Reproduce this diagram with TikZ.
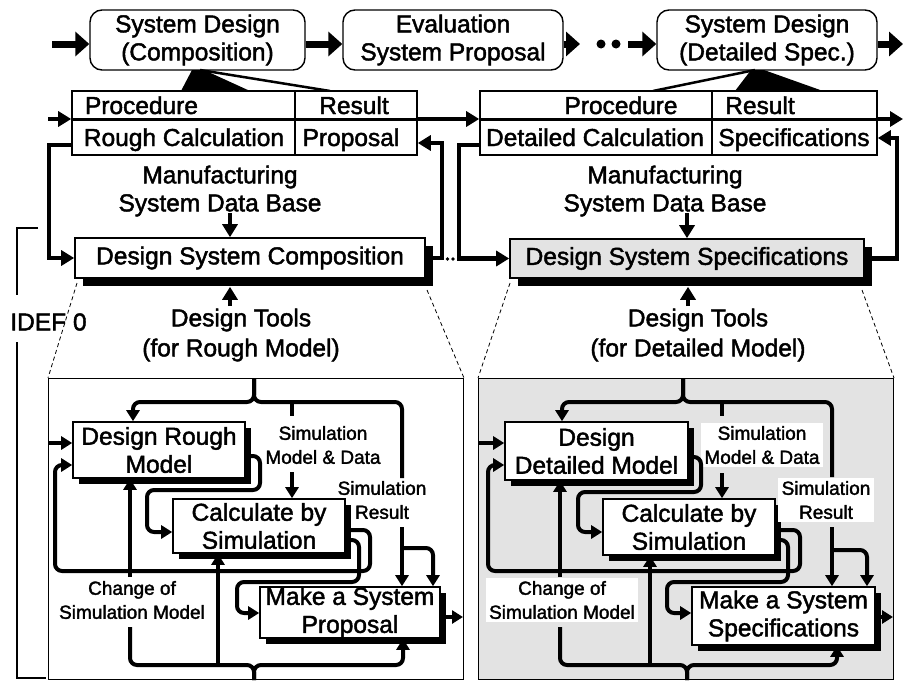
\documentclass[tikz,border=0pt]{standalone}
\usepackage{fontspec}
\setmainfont{Liberation Sans}[FakeBold=1.8]
\usetikzlibrary{arrows.meta,shadows}
\begin{document}
\begin{tikzpicture}[x=1pt,y=-1pt,line join=miter,
  big/.style={font=\fontsize{24.5}{28}\selectfont},
  small/.style={font=\fontsize{19}{24}\selectfont},
  stage/.style={draw,line width=1.4pt,rounded corners=12pt,minimum width=215pt,minimum height=60pt,align=center,big,inner sep=0pt,fill=white},
  sysbox/.style={draw,line width=1.6pt,fill=white,align=center,big,inner sep=0pt,
    drop shadow={shadow xshift=8pt,shadow yshift=-8pt,fill=black,opacity=1}},
  pbox/.style={draw,line width=1.6pt,fill=white,align=center,big,inner sep=0pt,
    drop shadow={shadow xshift=6pt,shadow yshift=-6pt,fill=black,opacity=1}},
  bigarrow/.style={line width=7pt,-{Triangle[length=14pt,width=24pt]}},
  midflow/.style={line width=4.5pt,-{Triangle[length=13pt,width=15pt]}},
  pflow/.style={line width=4pt,rounded corners=7pt,-{Triangle[length=11pt,width=13pt]}},
  pline/.style={line width=4pt,rounded corners=7pt},
  zoomline/.style={line width=0.8pt,dash pattern=on 4pt off 3pt},
  panel/.style={draw,line width=1pt,anchor=north west,inner sep=0pt,minimum width=415pt,minimum height=301pt},
  cellline/.style={line width=1.6pt}
]
\useasboundingbox (0,0) rectangle (904,680);
\fill[white] (0,0) rectangle (904,680);

% ---------- process stages ----------
\node[stage] (st1) at (197.5,40) {System Design\\(Composition)};
\node[stage,minimum width=220pt] (st2) at (453,40) {Evaluation\\System Proposal};
\node[stage,minimum width=220pt] (st3) at (767,40) {System Design\\(Detailed Spec.)};

\coordinate (s0) at (52,44);
\coordinate (s1) at (580,44);
\coordinate (s2) at (628,44);
\coordinate (s3) at (903,44);
\draw[bigarrow] (s0) -- (st1.west |- s0);
\draw[bigarrow] (st1.east |- s0) -- (st2.west |- s0);
\draw[bigarrow] (st2.east |- s0) -- (s1);
\fill (601,44) circle (4.5pt) (616,44) circle (4.5pt);
\draw[bigarrow] (s2) -- (st3.west |- s2);
\draw[bigarrow] (st3.east |- s3) -- (s3);

% callout wedges
\fill (181,91) -- (192,70) -- (204,70) -- (250,91) -- cycle;
\draw[line width=2.5pt] (200,70) -- (330,91);
\fill (735,91) -- (751,70) -- (764,70) -- (823,91) -- cycle;
\draw[line width=2.5pt] (755,70) -- (653,91);

% ---------- tables ----------
\node[draw,cellline,fill=white,minimum width=345pt,minimum height=64pt,inner sep=0pt] (tab1) at (244.5,123) {};
\draw[cellline] (295,91) -- (295,155);
\draw[line width=3pt] (72,119) -- (417,119);
\node[big,anchor=base] (t1a) at (141.5,114) {Procedure};
\node[big,anchor=base] (t1b) at (354,114) {Result};
\node[big,anchor=base] (t1c) at (184,146) {Rough Calculation};
\node[big,anchor=base] (t1d) at (351,146) {Proposal};

\node[draw,cellline,fill=white,minimum width=397pt,minimum height=64pt,inner sep=0pt] (tab2) at (678.5,123) {};
\draw[cellline] (712,91) -- (712,155);
\draw[line width=3pt] (480,119) -- (877,119);
\node[big,anchor=base] (t2a) at (621,114) {Procedure};
\node[big,anchor=base] (t2b) at (760,114) {Result};
\node[big,anchor=base] (t2c) at (595,146) {Detailed Calculation};
\node[big,anchor=base] (t2d) at (794,146) {Specifications};

\coordinate (in1) at (48,119);
\coordinate (out2) at (903,119);
\draw[midflow] (in1) -- (tab1.west |- in1);
\draw[midflow] (tab1.east |- in1) -- (tab2.west |- in1);
\draw[midflow] (tab2.east |- out2) -- (out2);

% ---------- IDEF0 activities ----------
\node[sysbox,minimum width=350pt,minimum height=40pt] (dsc) at (250,258) {Design System Composition};
\node[sysbox,fill=gray!22,minimum width=354pt,minimum height=39pt] (dss) at (687,258.5) {Design System Specifications};

\draw[midflow] ([yshift=-22pt]tab1.west) -- (49,145) |- (dsc.west);
\draw[midflow] (dsc.east) -- (442,258) |- ([yshift=-20pt]tab1.east);
\fill (447.5,259) circle (1.8pt) (453,259) circle (1.8pt);
\draw[midflow] ([yshift=-22pt]tab2.west) -- (459,145) |- (dss.west);
\draw[midflow] (dss.east) -- (897,258.5) |- ([yshift=-15pt]tab2.east);

\node[big,align=center] (mdb1) at (220,191) {Manufacturing\\System Data Base};
\node[big,align=center] (mdb2) at (665,191) {Manufacturing\\System Data Base};
\coordinate (m1) at (230,213);
\coordinate (m2) at (687,213);
\draw[midflow] (m1) -- (m1 |- dsc.north);
\draw[midflow] (m2) -- (m2 |- dss.north);

\node[big,align=center,font=\fontsize{24.5}{30}\selectfont] (dt1) at (241,335) {Design Tools\\(for Rough Model)};
\node[big,align=center,font=\fontsize{24.5}{30}\selectfont] (dt2) at (698,335) {Design Tools\\(for Detailed Model)};
\coordinate (u1) at (230,306);
\coordinate (u2) at (688,306);
\draw[midflow] (u1) -- ([yshift=-8pt]u1 |- dsc.south);
\draw[midflow] (u2) -- ([yshift=-8pt]u2 |- dss.south);

% IDEF 0 bracket
\node[big] (idef) at (48.5,322) {IDEF 0};
\draw[line width=1.5pt] (38,228) -- (17,228) -- (17,295);
\draw[line width=1.5pt] (17,342) -- (17,678) -- (46,678);

% ---------- detail panels ----------
\node[panel,fill=white] (pn1) at (48,378) {};
\node[panel,fill=gray!22] (pn2) at (478,378) {};
\draw[zoomline] (77,283) -- (pn1.north west);
\draw[zoomline] (427,290) -- (pn1.north east);
\draw[zoomline] (510,283) -- (pn2.north west);
\draw[zoomline] (862,290) -- (pn2.north east);

% panel 1 : rough model
\node[pbox,minimum width=172pt,minimum height=56pt] (drm) at (159,450) {Design Rough\\Model};
\node[pbox,minimum width=172pt,minimum height=54pt] (cbs1) at (259,526) {Calculate by\\Simulation};
\node[pbox,minimum width=180pt,minimum height=51pt] (msp) at (350,612.5) {Make a System\\Proposal};
\node[small,align=center] (smd1) at (323,445) {Simulation\\Model \& Data};
\node[small,align=center] (sr1) at (382,500) {Simulation\\Result};
\node[small,align=center] (cm1) at (132,600) {Change of\\Simulation Model};

\coordinate (b1t) at (254,378);
\coordinate (b1b) at (254,680);
\draw[pflow] (b1t) -- (254,402) -| ([xshift=-26pt]drm.north);
\draw[pline] (b1t) -- (254,402) -| (402,478);
\draw[pflow] (402,527) -- ([xshift=52pt]msp.north);
\draw[pflow] (402,548) -| ([xshift=83pt]msp.north);
\draw[pline] (292,402) -- (292,416);
\draw[pflow] (292,472) -- ([xshift=33pt]cbs1.north);
\draw[pflow] ([yshift=-6pt]drm.east) -- (260,456) -- (260,490) -- (147,490) -- (147,532) -- ([yshift=-6pt]cbs1.west);
\draw[pflow] ([yshift=-4pt]cbs1.east) -- (370,530) -- (370,571) -- (55,571) -- (55,465) -- ([yshift=-15pt]drm.west);
\draw[pflow] ([yshift=-14pt]cbs1.east) -- (359,540) -- (359,582) -- (237,582) -- (237,613) -- ([yshift=-0.5pt]msp.west);
\draw[pflow] (48,443) -- ([yshift=7pt]drm.west);
\draw[pflow] ([yshift=-4.5pt]msp.east) -- (463,617);
\draw[pflow] (130,577) -- ([xshift=-29pt]drm.south);
\draw[pflow] (b1b) -- (254,665) -| ([xshift=53pt]msp.south);
\draw[pline] (b1b) -- (254,665) -| (130,627);
\draw[pflow] (218,665) -- ([xshift=-41pt]cbs1.south);

% panel 2 : detailed model
\node[pbox,minimum width=183pt,minimum height=58pt] (ddm) at (596.5,451) {Design\\Detailed Model};
\node[pbox,minimum width=172pt,minimum height=56pt] (cbs2) at (689,527) {Calculate by\\Simulation};
\node[pbox,minimum width=183pt,minimum height=58pt] (mss) at (783.5,616) {Make a System\\Specifications};
\node[small,align=center,fill=white] (smd2) at (762,445) {Simulation\\Model \& Data};
\node[small,align=center,fill=white] (sr2) at (826,500) {Simulation\\Result};
\node[small,align=center,fill=white] (cm2) at (562,600) {Change of\\Simulation Model};

\coordinate (b2t) at (683,378);
\coordinate (b2b) at (687,680);
\draw[pflow] (b2t) -- (683,402) -| ([xshift=-34.5pt]ddm.north);
\draw[pline] (b2t) -- (683,402) -| (832,477);
\draw[pflow] (832,527) -- ([xshift=48.5pt]mss.north);
\draw[pflow] (832,550) -| ([xshift=83.5pt]mss.north);
\draw[pline] (722,402) -- (722,416);
\draw[pflow] (722,473) -- ([xshift=33pt]cbs2.north);
\draw[pflow] ([yshift=-6pt]ddm.east) -- (701,457) -- (701,492) -- (578,492) -- (578,532) -- ([yshift=-5pt]cbs2.west);
\draw[pflow] ([yshift=-3pt]cbs2.east) -- (800,530) -- (800,571) -- (488,571) -- (488,465) -- ([yshift=-14pt]ddm.west);
\draw[pflow] ([yshift=-13pt]cbs2.east) -- (788,540) -- (788,582) -- (667,582) -- (667,613) -- ([yshift=3pt]mss.west);
\draw[pflow] (478,443) -- ([yshift=8pt]ddm.west);
\draw[pflow] ([yshift=-1pt]mss.east) -- (893,617);
\draw[pflow] (560,577) -- ([xshift=-36.5pt]ddm.south);
\draw[pflow] (b2b) -- (687,665) -| ([xshift=53.5pt]mss.south);
\draw[pline] (b2b) -- (687,665) -| (560,627);
\draw[pflow] (650,665) -- ([xshift=-39pt]cbs2.south);
\end{tikzpicture}
\end{document}
